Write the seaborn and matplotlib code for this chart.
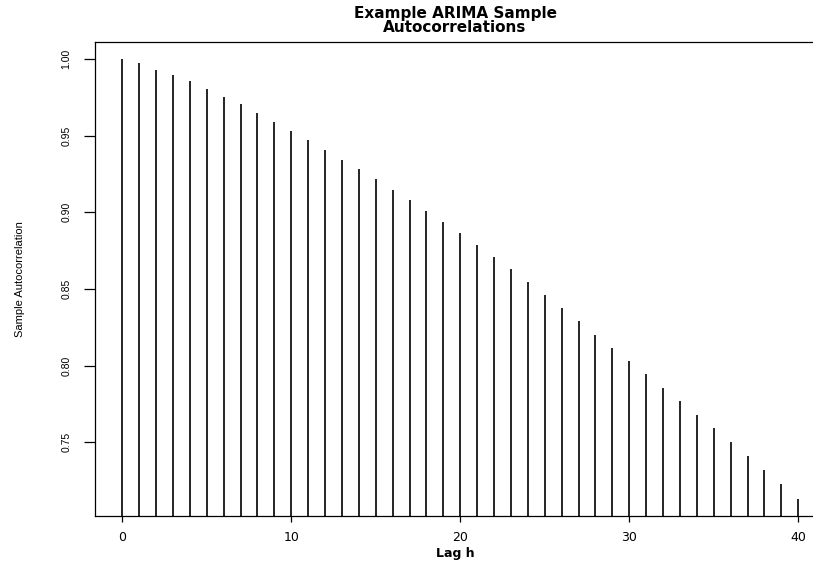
import numpy as np
import matplotlib
matplotlib.use("Agg")
import matplotlib.pyplot as plt
import seaborn as sns

# ---- data ----
lags = list(range(41))
acf = [1.0000, 0.9972, 0.9930, 0.9896, 0.9855, 0.9804, 0.9752, 0.9705, 0.9650, 0.9592,
       0.9532, 0.9471, 0.9407, 0.9343, 0.9281, 0.9216, 0.9146, 0.9079, 0.9008, 0.8935,
       0.8864, 0.8787, 0.8709, 0.8629, 0.8546, 0.8461, 0.8375, 0.8290, 0.8200, 0.8114,
       0.8029, 0.7944, 0.7853, 0.7768, 0.7677, 0.7592, 0.7501, 0.7410, 0.7320, 0.7228,
       0.7131]
x_ticks = [0, 10, 20, 30, 40]
y_ticks = [0.75, 0.80, 0.85, 0.90, 0.95, 1.00]
y_tick_labels = ["0.75", "0.80", "0.85", "0.90", "0.95", "1.00"]

sns.set_theme(style="ticks")
narrow = ["Liberation Sans Narrow", "Liberation Sans", "DejaVu Sans"]
plt.rcParams["font.family"] = ["DejaVu Sans"]
plt.rcParams["text.color"] = "black"
plt.rcParams["axes.labelcolor"] = "black"
plt.rcParams["xtick.color"] = "black"
plt.rcParams["ytick.color"] = "black"

W, H = 813, 563
fig = plt.figure(figsize=(W / 100, H / 100), dpi=100)
# axes box in pixels: left 95, right 815, top 42, bottom 516
ax = fig.add_axes([95 / W, (H - 516) / H, (815 - 95) / W, (516 - 42) / H])

# type='h' style lines from the bottom up to each value
ax.vlines(lags, 0, acf, color="black", linewidth=1.2)

ax.set_xlim(-1.615, 40.99)
ax.set_ylim(0.7020, 1.0111)

ax.set_xticks(x_ticks)
ax.set_xticklabels([str(t) for t in x_ticks], fontsize=9)
ax.set_yticks(y_ticks)
ax.set_yticklabels(y_tick_labels, rotation=90, va="center",
                   fontsize=7.5, family=narrow)

ax.tick_params(axis="x", length=4.5, width=0.9, color="black", pad=6)
ax.tick_params(axis="y", length=8, width=0.9, color="black", pad=9)

for side in ["left", "bottom", "top"]:
    ax.spines[side].set_visible(True)
    ax.spines[side].set_color("black")
    ax.spines[side].set_linewidth(0.9)
ax.spines["right"].set_visible(False)

ax.set_xlabel("Lag h", fontsize=9, fontweight="bold", va="center")
ax.xaxis.set_label_coords(0.5, (516 - 554) / 474)
ax.set_ylabel("Sample Autocorrelation", fontsize=8, family=narrow, va="center")
ax.yaxis.set_label_coords((20 - 95) / 720, 0.5)

ax.set_title("Example ARIMA Sample\nAutocorrelations", fontsize=11,
             fontweight="bold", pad=7, linespacing=0.95)

fig.savefig("out.png", dpi=100)
